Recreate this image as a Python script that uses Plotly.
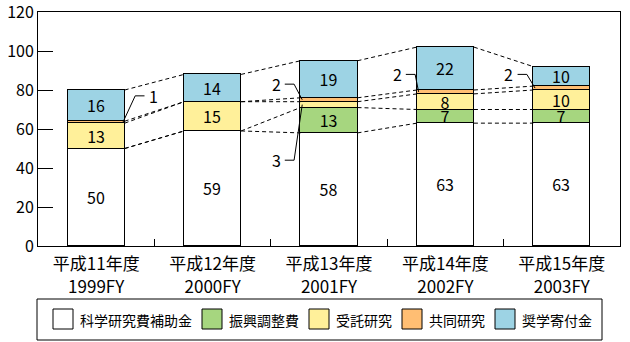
import plotly.graph_objects as go

# ---- data ----
categories = ["平成11年度<br>1999FY", "平成12年度<br>2000FY", "平成13年度<br>2001FY",
              "平成14年度<br>2002FY", "平成15年度<br>2003FY"]
series_names = ["科学研究費補助金", "振興調整費", "受託研究", "共同研究", "奨学寄付金"]
kaken = [50, 59, 58, 63, 63]
shinko = [0, 0, 13, 7, 7]
jutaku = [13, 15, 3, 8, 10]
kyodo = [1, 0, 2, 2, 2]
kifu = [16, 14, 19, 22, 10]
y_ticks = [0, 20, 40, 60, 80, 100, 120]

series_values = [kaken, shinko, jutaku, kyodo, kifu]
colors = ["#FFFFFF", "#A6D67F", "#FFF09A", "#FFBE73", "#9DD3E4"]

FONT = "Noto Sans CJK JP"
BW = 0.49
n = len(categories)
xs = list(range(n))

fig = go.Figure()

# stacked bars
for name, vals, col in zip(series_names, series_values, colors):
    fig.add_trace(go.Bar(
        x=xs, y=vals, name=name, width=BW,
        marker=dict(color=col, line=dict(color="black", width=1)),
        text=[str(v) if v >= 5 else "" for v in vals],
        textposition="inside", insidetextanchor="middle", textangle=0,
        textfont=dict(size=16, color="black", family=FONT),
        showlegend=False, hoverinfo="skip",
    ))

# cumulative boundaries
cum = []
run = [0] * n
for vals in series_values:
    run = [a + b for a, b in zip(run, vals)]
    cum.append(run)

# dashed connectors
lx, ly = [], []
for level in cum:
    for i in range(n - 1):
        lx += [i + BW / 2, i + 1 - BW / 2, None]
        ly += [level[i], level[i + 1], None]
fig.add_trace(go.Scatter(x=lx, y=ly, mode="lines",
                         line=dict(color="black", width=1, dash="4px,3px"),
                         showlegend=False, hoverinfo="skip"))

# leader labels for small segments: (series index, bar index, side, text dx, text y)
leaders = [
    (3, 0, +1, 0.245, 77),
    (2, 2, -1, 0.21, 44),
    (3, 2, -1, 0.21, 83),
    (3, 3, -1, 0.17, 88),
    (3, 4, -1, 0.21, 88),
]
llx, lly = [], []
for si, bi, side, dx, ty in leaders:
    v = series_values[si][bi]
    mid = cum[si][bi] - v / 2
    edge = bi + side * (BW / 2 - 0.015)
    tx = bi + side * (BW / 2 + dx)
    e1 = tx - side * 0.075
    e0 = tx - side * 0.155
    llx += [edge, e0, e1, None]
    lly += [mid, ty, ty, None]
    fig.add_annotation(x=tx, y=ty, text=str(v), showarrow=False,
                       font=dict(size=16, color="black", family=FONT))
fig.add_trace(go.Scatter(x=llx, y=lly, mode="lines",
                         line=dict(color="black", width=1),
                         showlegend=False, hoverinfo="skip"))

# custom legend (below plot)
L, R, T, B = 38, 620, 12, 246
pw, ph = R - L, B - T
def px_x(p):
    return (p - L) / pw
def px_y(p):
    return (B - p) / ph

fig.add_shape(type="rect", xref="paper", yref="paper",
              x0=px_x(37), x1=px_x(602), y0=px_y(340), y1=px_y(299),
              line=dict(color="black", width=1), fillcolor="rgba(0,0,0,0)")
x = 53
for name, col in zip(series_names, colors):
    fig.add_shape(type="rect", xref="paper", yref="paper",
                  x0=px_x(x), x1=px_x(x + 20), y0=px_y(329), y1=px_y(309),
                  line=dict(color="black", width=1), fillcolor=col)
    fig.add_annotation(xref="paper", yref="paper", x=px_x(x + 25), y=px_y(319.5),
                       xanchor="left", yanchor="middle", text=name, showarrow=False,
                       font=dict(size=14, color="black", family=FONT))
    x = x + 26 + len(name) * 14 + 11

fig.update_layout(
    width=630, height=342,
    margin=dict(l=L, r=630 - R, t=T, b=342 - B, autoexpand=False),
    paper_bgcolor="white", plot_bgcolor="white",
    barmode="stack", bargap=0,
    font=dict(family=FONT, color="black"),
    uniformtext=dict(minsize=16, mode="show"),
    xaxis=dict(range=[-0.5, n - 0.5], tickvals=xs, ticktext=categories,
               showline=True, linecolor="black", linewidth=1, mirror=True,
               ticks="", showgrid=False, zeroline=False, ticklabelstandoff=3,
               automargin=False,
               tickfont=dict(size=17, family=FONT),
               minor=dict(tickmode="array", tickvals=[i + 0.5 for i in range(n - 1)],
                          ticks="inside", ticklen=7, tickcolor="black", tickwidth=1,
                          showgrid=False)),
    yaxis=dict(range=[0, 120], tickvals=y_ticks,
               showline=True, linecolor="black", linewidth=1, mirror=True,
               ticks="inside", ticklen=15, tickcolor="black", tickwidth=1,
               showgrid=False, zeroline=False, ticklabeloverflow="allow",
               automargin=False,
               tickfont=dict(size=16, family=FONT)),
)

fig.write_html("out.html")
